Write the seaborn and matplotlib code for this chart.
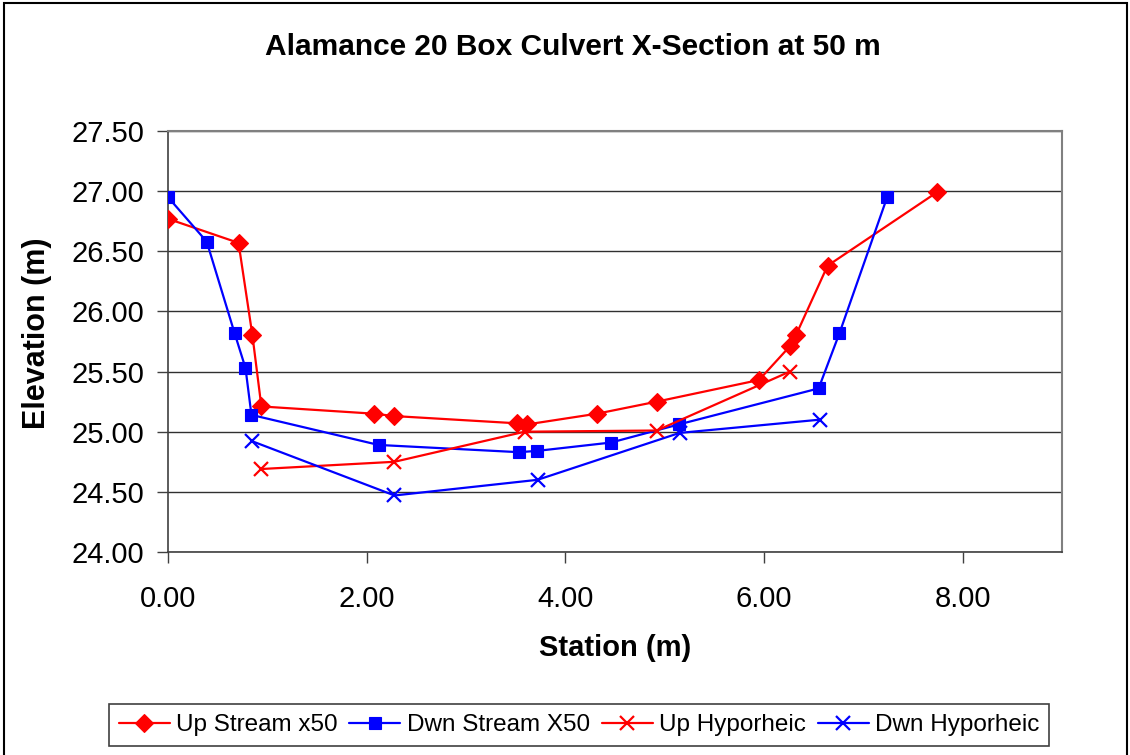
import matplotlib
matplotlib.use("Agg")
import matplotlib.pyplot as plt
from matplotlib.patches import Rectangle
import pandas as pd
import seaborn as sns

# Cross-section survey points: station (m) and elevation (m)
up_stream_x = [0.00, 0.71, 0.85, 0.94, 2.07, 2.28, 3.51, 3.61, 4.32, 4.92, 5.95, 6.26, 6.32, 6.64, 7.74]
up_stream_y = [26.77, 26.57, 25.80, 25.21, 25.15, 25.13, 25.07, 25.06, 25.15, 25.25, 25.43, 25.71, 25.80, 26.38, 26.99]

dwn_stream_x = [0.00, 0.39, 0.67, 0.78, 0.84, 2.12, 3.53, 3.71, 4.46, 5.14, 6.55, 6.76, 7.24]
dwn_stream_y = [26.95, 26.58, 25.82, 25.53, 25.14, 24.89, 24.83, 24.84, 24.91, 25.06, 25.36, 25.82, 26.95]

up_hypo_x = [0.94, 2.28, 3.59, 4.92, 6.26]
up_hypo_y = [24.69, 24.75, 25.00, 25.01, 25.50]

dwn_hypo_x = [0.85, 2.28, 3.72, 5.15, 6.56]
dwn_hypo_y = [24.92, 24.47, 24.60, 24.99, 25.10]

series_names = ["Up Stream x50", "Dwn Stream X50", "Up Hyporheic", "Dwn Hyporheic"]
series_colors = ["#ff0000", "#0000ff", "#ff0000", "#0000ff"]
series_markers = ["D", "s", "x", "x"]
series_msize = [9, 8, 10, 10]

x_ticks = [0.0, 2.0, 4.0, 6.0, 8.0]
y_ticks = [24.0, 24.5, 25.0, 25.5, 26.0, 26.5, 27.0, 27.5]

frames = []
for name, xs, ys in zip(series_names,
                        [up_stream_x, dwn_stream_x, up_hypo_x, dwn_hypo_x],
                        [up_stream_y, dwn_stream_y, up_hypo_y, dwn_hypo_y]):
    frames.append(pd.DataFrame({"Station": xs, "Elevation": ys, "Series": name,
                                "order": range(len(xs))}))
df = pd.concat(frames, ignore_index=True)

sns.set_style("white")
plt.rcParams["font.family"] = ["Liberation Sans", "DejaVu Sans"]
plt.rcParams["text.color"] = "black"
plt.rcParams["axes.labelcolor"] = "black"

fig = plt.figure(figsize=(11.3, 7.55), dpi=100)
ax = fig.add_axes([168 / 1130, 1 - 552 / 755, (1062 - 168) / 1130, (552 - 131) / 755])

for name, color, marker, ms in zip(series_names, series_colors, series_markers, series_msize):
    sub = df[df["Series"] == name]
    sns.lineplot(data=sub, x="Station", y="Elevation", ax=ax, sort=False, estimator=None,
                 color=color, marker=marker, markersize=ms, linewidth=1.6,
                 markeredgecolor=color, markeredgewidth=1.6 if marker == "x" else 0.8,
                 label=name, legend=False, zorder=3)

ax.set_xlim(0, 9)
ax.set_ylim(24.0, 27.5)
ax.set_xticks(x_ticks)
ax.set_yticks(y_ticks)
ax.set_xticklabels([f"{v:.2f}" for v in x_ticks], fontsize=21)
ax.set_yticklabels([f"{v:.2f}" for v in y_ticks], fontsize=21)
ax.tick_params(axis="both", direction="out", length=8, width=1, color="#404040",
               labelcolor="black", left=True, bottom=True)
ax.tick_params(axis="y", pad=9)
ax.tick_params(axis="x", pad=16)

ax.yaxis.grid(True, color="#303030", linewidth=1)
ax.xaxis.grid(False)
ax.set_axisbelow(True)

for side in ["left", "bottom"]:
    ax.spines[side].set_color("#404040")
    ax.spines[side].set_linewidth(1.2)
for side in ["top", "right"]:
    ax.spines[side].set_visible(True)
    ax.spines[side].set_color("#808080")
    ax.spines[side].set_linewidth(1.5)

ax.set_xlabel("Station (m)", fontsize=21, fontweight="bold")
ax.set_ylabel("Elevation (m)", fontsize=22, fontweight="bold")
ax.xaxis.set_label_coords(0.5, (552 - 634) / 421)
ax.yaxis.set_label_coords((52 - 168) / 894, 0.52)

fig.text(0.5071, 1 - 47 / 755, "Alamance 20 Box Culvert X-Section at 50 m",
         ha="center", va="center", fontsize=21.5, fontweight="bold")

handles, labels = ax.get_legend_handles_labels()
leg = fig.legend(handles, labels, ncol=4, loc="center",
                 bbox_to_anchor=(579 / 1130, 1 - 725 / 755),
                 fontsize=17.5, frameon=True, fancybox=False, framealpha=1,
                 edgecolor="#404040", handlelength=2.1, handletextpad=0.25,
                 columnspacing=0.5, borderpad=0.4)
leg.get_frame().set_linewidth(1.2)

# outer chart border
fig.patches.append(Rectangle((4 / 1130, -0.05), (1127 - 4) / 1130, 1.05 - 3 / 755,
                             transform=fig.transFigure, fill=False,
                             edgecolor="black", linewidth=1.5))

fig.savefig("out.png", dpi=100, facecolor="white")
